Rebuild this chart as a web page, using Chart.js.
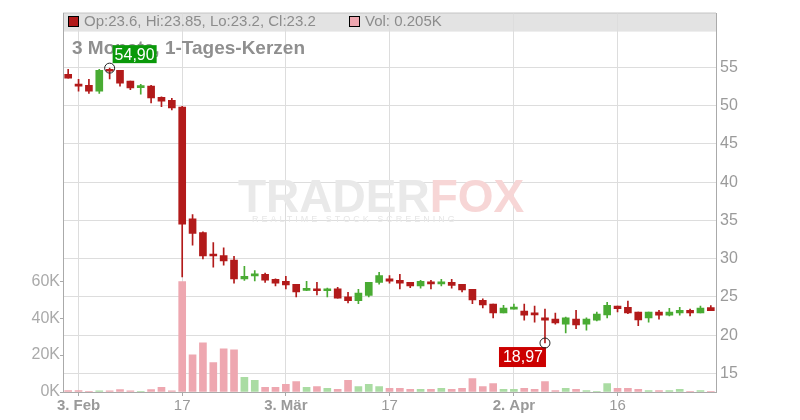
<!DOCTYPE html>
<html lang="de">

<head>
    <title>3 Monate, 1-Tages-Kerzen</title>
    <script src="https://cdn.jsdelivr.net/npm/chart.js"></script>
    <style>
        body { margin: 0; background: #fff; }
    </style>
</head>

<body>
    <canvas id="chart" width="800" height="420"></canvas>

    <script>
        // Trading days (categories)
        const dates = [
            '31.01.', '03.02.', '04.02.', '05.02.', '06.02.', '07.02.',
            '10.02.', '11.02.', '12.02.', '13.02.', '14.02.',
            '17.02.', '18.02.', '19.02.', '20.02.', '21.02.',
            '24.02.', '25.02.', '26.02.', '27.02.', '28.02.',
            '03.03.', '04.03.', '05.03.', '06.03.', '07.03.',
            '10.03.', '11.03.', '12.03.', '13.03.', '14.03.',
            '17.03.', '18.03.', '19.03.', '20.03.', '21.03.',
            '24.03.', '25.03.', '26.03.', '27.03.', '28.03.',
            '31.03.', '01.04.', '02.04.', '03.04.', '04.04.',
            '07.04.', '08.04.', '09.04.', '10.04.', '11.04.',
            '14.04.', '15.04.', '16.04.', '17.04.', '18.04.',
            '21.04.', '22.04.', '23.04.', '24.04.', '25.04.',
            '28.04.', '29.04.'
        ];

        const opens = [
            54.1, 52.75, 52.65, 51.9, 54.75, 54.6, 53.2, 52.35, 52.55, 51.1, 50.7,
            49.8, 35.2, 33.4, 30.45, 30.4, 29.8, 27.35, 27.75, 27.95, 27.3,
            27.05, 26.65, 25.85, 25.9, 25.8, 26.05, 25.0, 24.5, 25.2, 26.9,
            27.35, 27.15, 26.9, 26.45, 26.9, 26.7, 26.9, 26.65, 26.0, 24.55,
            24.05, 22.9, 23.4, 23.15, 22.75, 22.25, 22.1, 21.45, 22.1, 21.45,
            21.95, 22.65, 23.8, 23.65, 23.0, 22.25, 23.0, 22.6, 22.9, 23.25,
            22.9, 23.6
        ];
        const highs = [
            54.75, 53.45, 53.45, 54.75, 54.9, 54.6, 53.2, 52.8, 52.65, 51.15, 50.95,
            49.9, 35.75, 33.5, 32.1, 31.4, 30.3, 29.0, 28.45, 28.1, 27.35,
            27.7, 26.65, 27.05, 26.9, 26.15, 26.25, 25.6, 26.0, 26.9, 28.2,
            27.8, 27.95, 26.9, 27.15, 27.15, 27.3, 27.3, 26.65, 26.0, 24.75,
            24.05, 23.9, 24.05, 24.05, 23.8, 23.4, 22.9, 22.35, 23.25, 22.25,
            23.0, 24.3, 23.8, 24.45, 23.0, 23.0, 23.25, 23.5, 23.65, 23.4,
            23.8, 23.85
        ];
        const lows = [
            53.6, 51.9, 51.6, 51.6, 53.5, 52.55, 52.1, 51.5, 50.35, 49.85, 49.45,
            27.6, 31.75, 29.95, 28.9, 29.15, 26.8, 27.15, 27.1, 26.9, 26.45,
            26.05, 25.0, 25.8, 25.25, 25.0, 24.85, 24.2, 24.1, 25.0, 26.65,
            26.8, 26.05, 26.2, 26.15, 26.05, 26.45, 26.15, 25.65, 24.1, 23.55,
            22.25, 22.9, 23.4, 21.95, 21.7, 18.97, 21.45, 20.3, 20.85, 20.65,
            21.85, 22.25, 23.05, 22.8, 21.25, 21.7, 22.1, 22.5, 22.6, 22.5,
            22.9, 23.2
        ];
        const closes = [
            53.6, 52.55, 51.9, 54.6, 54.5, 52.95, 52.3, 52.55, 51.0, 50.6, 49.7,
            34.5, 33.3, 30.35, 30.35, 29.7, 27.35, 27.7, 27.95, 27.2, 26.8,
            26.55, 25.65, 26.05, 25.8, 26.05, 24.85, 24.5, 25.5, 26.9, 27.8,
            27.05, 26.8, 26.45, 27.05, 26.7, 26.9, 26.5, 25.9, 24.6, 23.95,
            22.9, 23.55, 23.55, 22.6, 22.65, 21.95, 21.6, 22.25, 21.35, 22.1,
            22.75, 23.9, 23.45, 22.9, 22.0, 23.0, 22.6, 23.0, 23.25, 22.9,
            23.55, 23.2
        ];
        // Volume in thousands
        const volumes = [
            0.8, 0.8, 0.2, 0.7, 0.7, 1.3, 0.7, 0.3, 1.3, 2.5, 0.7,
            59.8, 20.2, 26.6, 15.9, 23.4, 22.9, 7.9, 6.3, 2.5, 2.5,
            4.1, 5.7, 2.5, 3.0, 2.0, 1.4, 6.3, 3.0, 4.1, 3.0,
            2.0, 2.0, 1.4, 1.4, 1.4, 2.0, 1.4, 2.0, 7.3, 3.0,
            4.6, 1.4, 1.4, 2.0, 1.4, 5.7, 0.8, 2.0, 1.4, 0.8,
            0.2, 4.6, 2.0, 2.0, 1.4, 0.8, 0.8, 0.8, 1.4, 0.2,
            0.8, 0.205
        ];

        const tickLabels = {
            '03.02.': '3. Feb', '17.02.': '17', '03.03.': '3. Mär',
            '17.03.': '17', '02.04.': '2. Apr', '16.04.': '16'
        };
        const boldLabels = ['3. Feb', '3. Mär', '2. Apr'];
        const priceTicks = [15, 20, 25, 30, 35, 40, 45, 50, 55];
        const volTicks = [0, 20, 40, 60];

        const maxIdx = 4, maxText = '54,90';
        const minIdx = 46, minText = '18,97';

        const RED = '#b21a1a', GREEN = '#49ab33';
        const isUp = opens.map((o, i) => closes[i] >= o);
        const candleColors = isUp.map(u => u ? GREEN : RED);
        const volColors = isUp.map(u => u ? '#aadca3' : '#eea7b0');

        const FONT = '"Liberation Sans", Arial, sans-serif';
        Chart.defaults.font.family = FONT;

        // Header band, title, watermark and min/max markers
        const decor = {
            id: 'decor',
            beforeDraw(chart) {
                const { ctx, chartArea: a } = chart;
                ctx.save();
                ctx.fillStyle = '#e3e3e3';
                ctx.fillRect(a.left, a.top - 1, a.right - a.left, 19);
                ctx.strokeStyle = '#c8c8c8';
                ctx.lineWidth = 1;
                ctx.beginPath();
                ctx.moveTo(a.left, a.top - 0.5);
                ctx.lineTo(a.right, a.top - 0.5);
                ctx.stroke();
                ctx.restore();
            },
            beforeDatasetsDraw(chart) {
                const { ctx } = chart;
                ctx.save();
                ctx.font = 'bold 46px ' + FONT;
                ctx.textBaseline = 'alphabetic';
                ctx.fillStyle = '#e9e9e9';
                ctx.fillText('TRADER', 238, 212);
                const w = ctx.measureText('TRADER').width;
                ctx.fillStyle = '#f7d6d6';
                ctx.fillText('FOX', 238 + w, 212);
                ctx.font = '9px ' + FONT;
                ctx.letterSpacing = '3px';
                ctx.fillStyle = '#e6e6e6';
                ctx.fillText('REALTIME STOCK SCREENING', 252, 222);
                ctx.restore();
            },
            afterDatasetsDraw(chart) {
                const { ctx, scales: { x, price } } = chart;
                ctx.save();
                // header legend
                ctx.lineWidth = 1;
                ctx.strokeStyle = '#000';
                ctx.fillStyle = RED;
                ctx.fillRect(68, 16, 11, 11);
                ctx.strokeRect(68.5, 16.5, 10, 10);
                ctx.fillStyle = '#eea7b0';
                ctx.fillRect(349, 16, 11, 11);
                ctx.strokeRect(349.5, 16.5, 10, 10);
                ctx.fillStyle = '#8c8c8c';
                ctx.font = '15px ' + FONT;
                ctx.textBaseline = 'alphabetic';
                const last = opens.length - 1;
                ctx.fillText('Op:' + opens[last] + ', Hi:' + highs[last] + ', Lo:' + lows[last] + ', Cl:' + closes[last], 84, 26);
                ctx.fillText('Vol: ' + volumes[last] + 'K', 365, 26);
                // title
                ctx.font = 'bold 19px ' + FONT;
                ctx.fillStyle = '#8f8f8f';
                ctx.fillText('3 Monate, 1-Tages-Kerzen', 72, 54);

                // max marker
                let cx = x.getPixelForValue(maxIdx), cy = price.getPixelForValue(highs[maxIdx]);
                ctx.fillStyle = '#0a990a';
                ctx.fillRect(cx + 3, cy - 23, 44, 18);
                ctx.fillStyle = '#fff';
                ctx.font = '16px ' + FONT;
                ctx.textAlign = 'center';
                ctx.textBaseline = 'middle';
                ctx.fillText(maxText, cx + 25, cy - 13);
                ctx.beginPath();
                ctx.arc(cx, cy, 5, 0, Math.PI * 2);
                ctx.strokeStyle = '#222';
                ctx.stroke();

                // min marker
                cx = x.getPixelForValue(minIdx); cy = price.getPixelForValue(lows[minIdx]);
                ctx.fillStyle = '#cc0000';
                ctx.fillRect(cx - 46, cy + 4, 47, 20);
                ctx.fillStyle = '#fff';
                ctx.fillText(minText, cx - 22, cy + 15);
                ctx.beginPath();
                ctx.arc(cx, cy, 5, 0, Math.PI * 2);
                ctx.strokeStyle = '#222';
                ctx.stroke();
                ctx.restore();
            }
        };

        const ctx = document.getElementById('chart').getContext('2d');

        const chart = new Chart(ctx, {
            type: 'bar',
            data: {
                labels: dates,
                datasets: [{
                    label: 'Docht',
                    data: lows.map((l, i) => [l, highs[i]]),
                    yAxisID: 'price',
                    backgroundColor: candleColors,
                    barThickness: 1,
                    grouped: false,
                    order: 2
                }, {
                    label: 'Kerze',
                    data: opens.map((o, i) => [o, closes[i]]),
                    yAxisID: 'price',
                    backgroundColor: candleColors,
                    barThickness: 7,
                    minBarLength: 2,
                    grouped: false,
                    order: 1
                }, {
                    label: 'Volumen',
                    data: volumes,
                    yAxisID: 'vol',
                    backgroundColor: volColors,
                    barThickness: 7,
                    grouped: false,
                    order: 3
                }]
            },
            options: {
                responsive: false,
                animation: false,
                layout: { padding: { top: 12, left: 0, right: 0, bottom: 0 } },
                plugins: {
                    legend: { display: false },
                    tooltip: { enabled: false }
                },
                scales: {
                    x: {
                        type: 'category',
                        offset: true,
                        afterFit: (s) => { s.height = 28; },
                        grid: {
                            offset: false,
                            tickLength: 4,
                            color: (c) => tickLabels[dates[c.index]] ? '#dddddd' : 'rgba(0,0,0,0)',
                            tickColor: (c) => tickLabels[dates[c.index]] ? '#aaaaaa' : 'rgba(0,0,0,0)'
                        },
                        border: { color: '#aaaaaa' },
                        ticks: {
                            autoSkip: false,
                            maxRotation: 0,
                            padding: 1,
                            color: '#9a9a9a',
                            font: (c) => ({
                                size: 15,
                                weight: boldLabels.includes(tickLabels[dates[c.index]]) ? 'bold' : 'normal'
                            }),
                            callback: (v, i) => tickLabels[dates[i]] || ''
                        }
                    },
                    price: {
                        type: 'linear',
                        position: 'right',
                        min: 12.57,
                        max: 62.03,
                        afterFit: (s) => { s.width = 84; },
                        afterBuildTicks: (s) => { s.ticks = priceTicks.map(v => ({ value: v })); },
                        grid: { color: '#dddddd', drawTicks: false },
                        border: { color: '#aaaaaa' },
                        ticks: {
                            padding: 4,
                            color: '#9a9a9a',
                            font: { size: 16 }
                        }
                    },
                    vol: {
                        type: 'linear',
                        position: 'left',
                        min: 0,
                        max: 205,
                        afterFit: (s) => { s.width = 63; },
                        afterBuildTicks: (s) => { s.ticks = volTicks.map(v => ({ value: v })); },
                        grid: { drawOnChartArea: false, tickLength: 3, tickColor: '#aaaaaa' },
                        border: { color: '#aaaaaa' },
                        ticks: {
                            padding: 0,
                            color: '#aaaaaa',
                            font: { size: 16 },
                            callback: (v) => v + 'K'
                        }
                    }
                }
            },
            plugins: [decor]
        });
    </script>
</body>

</html>
